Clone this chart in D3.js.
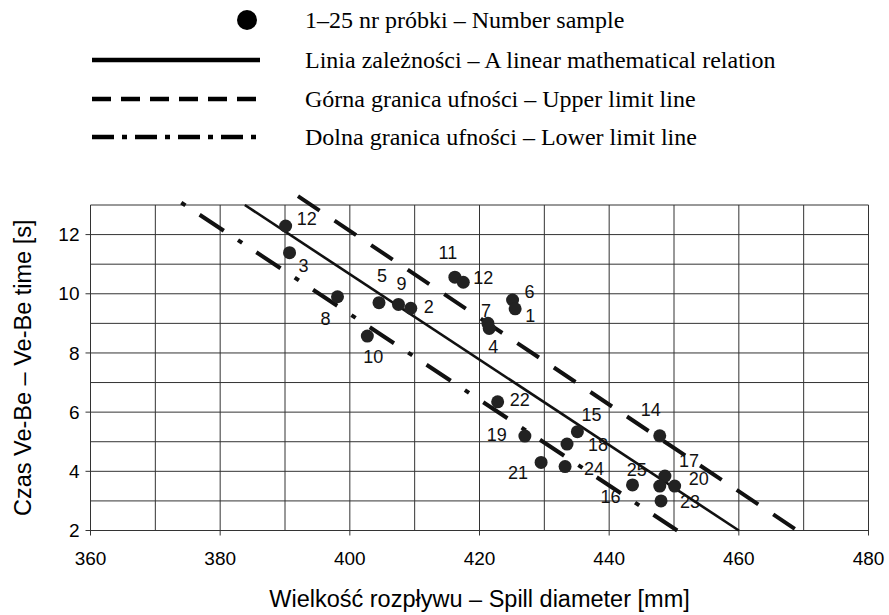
<!DOCTYPE html>
<html>
<head>
  <meta charset="utf-8">
  <title>Czas Ve-Be vs wielkość rozpływu</title>
  <script src="https://cdn.jsdelivr.net/npm/d3@7/dist/d3.min.js"></script>
  <style>
    body { margin: 0; background: #fff; }
    svg { display: block; }
  </style>
</head>
<body>
<div id="chart1"></div>

<script>
// samples
var sampleNo = ['12', '3', '8', '5', '9', '10', '2', '11', '12', '6', '1', '7', '4',
                '22', '19', '15', '18', '21', '24', '14', '17', '16', '25', '20', '23'];
var spill = [390.1, 390.7, 398.1, 404.5, 407.5, 402.7, 409.4, 416.2, 417.5, 425.1, 425.5, 421.3, 421.5,
             422.8, 427.0, 435.1, 433.5, 429.5, 433.2, 447.8, 448.6, 443.6, 447.8, 450.1, 448.0];
var vebe = [12.29, 11.39, 9.90, 9.70, 9.64, 8.57, 9.51, 10.56, 10.39, 9.79, 9.49, 9.00, 8.83,
            6.35, 5.19, 5.34, 4.92, 4.30, 4.16, 5.20, 3.84, 3.54, 3.50, 3.50, 3.00];

// end points of the three lines [spill, time]
var relationLine = [[383.8, 13.0], [460.0, 2.0]];
var upperLimit   = [[392.0, 13.3], [469.0, 2.0]];
var lowerLimit   = [[374.0, 13.08], [450.5, 2.0]];

var xTicks = [360, 380, 400, 420, 440, 460, 480];
var yTicks = [2, 4, 6, 8, 10, 12];

var legendItems = [
  '1–25 nr próbki – Number sample',
  'Linia zależności – A linear mathematical relation',
  'Górna granica ufności – Upper limit line',
  'Dolna granica ufności – Lower limit line'
];

// label placement next to each dot (px offset from the dot)
var labelOffset = [[21, -7], [14, 13], [-12, 22], [3, -27], [3, -21], [6, 21], [18, -2], [-7, -25],
                   [20, -5], [17, -8], [15, 7], [-2, -13], [4, 18], [22, -2], [-28, -1], [14, -17],
                   [31, 1], [-23, 10], [29, 2], [-9, -26], [24, -15], [-22, 12], [-23, -16], [24, -7], [29, 1]];

var width = 889, height = 615;
var sans = '"Liberation Sans", Arial, sans-serif',
    serif = '"Liberation Serif", "Times New Roman", serif';

var svg = d3.select('#chart1').append('svg')
    .attr('width', width)
    .attr('height', height);

var x = d3.scaleLinear().domain([360, 480]).range([90.5, 868.5]);
var y = d3.scaleLinear().domain([2, 13]).range([530.5, 205]);

// grid
var grid = svg.append('g').attr('stroke', '#333').attr('stroke-width', 1);
grid.selectAll('.gx')
    .data(d3.range(360, 481, 10))
  .enter().append('line')
    .attr('x1', function(d) { return x(d); })
    .attr('x2', function(d) { return x(d); })
    .attr('y1', y(13))
    .attr('y2', function(d) { return xTicks.indexOf(d) >= 0 ? y(2) + 5 : y(2); });
grid.selectAll('.gy')
    .data(d3.range(2, 14, 1))
  .enter().append('line')
    .attr('x1', function(d) { return yTicks.indexOf(d) >= 0 ? x(360) - 5 : x(360); })
    .attr('x2', x(480))
    .attr('y1', function(d) { return y(d); })
    .attr('y2', function(d) { return y(d); });

// tick labels
svg.append('g').selectAll('text')
    .data(xTicks)
  .enter().append('text')
    .attr('x', function(d) { return x(d); })
    .attr('y', y(2) + 34)
    .attr('text-anchor', 'middle')
    .style('font', '19px ' + sans)
    .text(function(d) { return d; });

svg.append('g').selectAll('text')
    .data(yTicks)
  .enter().append('text')
    .attr('x', x(360) - 11)
    .attr('y', function(d) { return y(d); })
    .attr('dy', '0.35em')
    .attr('text-anchor', 'end')
    .style('font', '19px ' + sans)
    .text(function(d) { return d; });

// axis titles
svg.append('text')
    .attr('x', (x(360) + x(480)) / 2)
    .attr('y', 607)
    .attr('text-anchor', 'middle')
    .style('font', '23.5px ' + sans)
    .text('Wielkość rozpływu – Spill diameter [mm]');

svg.append('text')
    .attr('transform', 'translate(31,' + (y(2) + y(13)) / 2 + ') rotate(-90)')
    .attr('text-anchor', 'middle')
    .style('font', '23.5px ' + sans)
    .text('Czas Ve-Be – Ve-Be time [s]');

// lines
var line = d3.line()
    .x(function(d) { return x(d[0]); })
    .y(function(d) { return y(d[1]); });

svg.append('path').datum(relationLine)
    .attr('d', line).attr('fill', 'none')
    .attr('stroke', '#111').attr('stroke-width', 2.6);
svg.append('path').datum(upperLimit)
    .attr('d', line).attr('fill', 'none')
    .attr('stroke', '#111').attr('stroke-width', 4)
    .attr('stroke-dasharray', '26,18');
svg.append('path').datum(lowerLimit)
    .attr('d', line).attr('fill', 'none')
    .attr('stroke', '#111').attr('stroke-width', 4)
    .attr('stroke-dasharray', '5,17,29,17');

// samples
svg.append('g').selectAll('circle')
    .data(spill)
  .enter().append('circle')
    .attr('cx', function(d) { return x(d); })
    .attr('cy', function(d, i) { return y(vebe[i]); })
    .attr('r', 6.5)
    .attr('fill', '#222');

svg.append('g').selectAll('text')
    .data(sampleNo)
  .enter().append('text')
    .attr('x', function(d, i) { return x(spill[i]) + labelOffset[i][0]; })
    .attr('y', function(d, i) { return y(vebe[i]) + labelOffset[i][1]; })
    .attr('dy', '0.35em')
    .attr('text-anchor', 'middle')
    .style('font', '18px ' + sans)
    .attr('fill', '#111')
    .text(function(d) { return d; });

// legend
var legend = svg.append('g');
var rowY = [20, 60, 99, 137];

legend.append('circle').attr('cx', 247).attr('cy', rowY[0]).attr('r', 10).attr('fill', '#000');
legend.append('line').attr('x1', 92).attr('x2', 260).attr('y1', rowY[1]).attr('y2', rowY[1])
    .attr('stroke', '#000').attr('stroke-width', 4.5);
legend.append('line').attr('x1', 92).attr('x2', 258).attr('y1', rowY[2]).attr('y2', rowY[2])
    .attr('stroke', '#000').attr('stroke-width', 4.5).attr('stroke-dasharray', '19,10');
legend.append('line').attr('x1', 92).attr('x2', 260).attr('y1', rowY[3]).attr('y2', rowY[3])
    .attr('stroke', '#000').attr('stroke-width', 4.5).attr('stroke-dasharray', '22,8,5,8');

legend.selectAll('text')
    .data(legendItems)
  .enter().append('text')
    .attr('x', 305)
    .attr('y', function(d, i) { return rowY[i]; })
    .attr('dy', '0.32em')
    .style('font', '24px ' + serif)
    .text(function(d) { return d; });
</script>
</body>
</html>
